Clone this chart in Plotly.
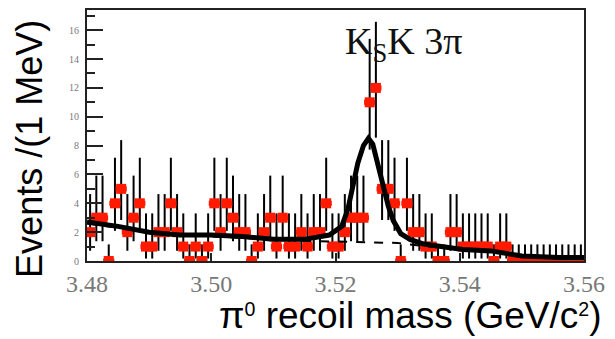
import plotly.graph_objects as go

# Binned event counts, 1 MeV bins from 3.480 to 3.560 GeV/c^2
bin_lo = 3.480
bin_w = 0.001
counts = [
    2, 3, 3, 0, 4, 5, 2, 3, 4, 1,
    1, 2, 2, 4, 2, 1, 0, 1, 0, 1,
    4, 2, 4, 3, 2, 2, 0, 1, 2, 3,
    1, 3, 1, 1, 2, 1, 2, 2, 4, 1,
    1, 2, 3, 3, 3, 11, 12, 5, 5, 4,
    0, 4, 2, 2, 1, 1, 0, 0, 2, 2,
    1, 1, 1, 1, 1, 0, 1, 1, 0, 0,
    0, 0, 0, 0, 0, 0, 0, 0, 0, 0,
]

# 68% Poisson interval half-widths for a given count
poisson_up = {0: 1.15, 1: 2.30, 2: 2.64, 3: 2.92, 4: 3.16, 5: 3.38, 11: 4.40, 12: 4.58}
poisson_dn = {0: 0.0, 1: 0.83, 2: 1.29, 3: 1.63, 4: 1.91, 5: 2.16, 11: 3.28, 12: 3.45}

# Fitted total shape (signal peak on smooth background)
fit_x = [3.4800, 3.4820, 3.4850, 3.4900, 3.4950, 3.5000, 3.5050, 3.5100, 3.5150,
         3.5190, 3.5210, 3.5220, 3.5228, 3.5236, 3.5245, 3.5253, 3.5260, 3.5268,
         3.5277, 3.5285, 3.5293, 3.5305, 3.5320, 3.5340, 3.5370, 3.5405, 3.5450,
         3.5500, 3.5560, 3.5600]
fit_y = [2.7, 2.6, 2.4, 2.0, 1.8, 1.8, 1.7, 1.5, 1.5,
         1.8, 2.4, 3.6, 5.3, 6.8, 8.0, 8.5, 8.1, 6.8,
         5.0, 3.8, 2.8, 1.9, 1.5, 1.2, 1.0, 0.8, 0.7,
         0.35, 0.25, 0.25]

# Background component of the fit
bkg_x = [3.480, 3.485, 3.490, 3.495, 3.500, 3.505, 3.510, 3.515, 3.520,
         3.525, 3.530, 3.535, 3.540, 3.545, 3.550, 3.556, 3.560]
bkg_y = [2.6, 2.3, 2.0, 1.8, 1.7, 1.6, 1.45, 1.4, 1.35,
         1.3, 1.25, 1.0, 0.8, 0.7, 0.35, 0.25, 0.25]

x_ticks = [3.48, 3.50, 3.52, 3.54, 3.56]
x_tick_labels = ["3.48", "3.50", "3.52", "3.54", "3.56"]
y_ticks = [0, 2, 4, 6, 8, 10, 12, 14, 16]
y_tick_labels = ["0", "2", "4", "6", "8", "10", "12", "14", "16"]

centers = [bin_lo + (i + 0.5) * bin_w for i in range(len(counts))]
err_up = [poisson_up[c] for c in counts]
err_dn = [poisson_dn[c] for c in counts]

fig = go.Figure()

# vertical error bars
fig.add_trace(go.Scatter(
    x=centers, y=counts, mode="markers",
    marker=dict(size=1, color="rgba(0,0,0,0)"),
    error_y=dict(type="data", symmetric=False, array=err_up, arrayminus=err_dn,
                 color="black", thickness=2, width=0),
    showlegend=False, hoverinfo="skip",
))

# data points
fig.add_trace(go.Scatter(
    x=centers, y=counts, mode="markers",
    marker=dict(symbol="square", size=10, color="#ff1a00", line=dict(width=0)),
    error_x=dict(type="constant", value=bin_w * 0.9, color="#ff1a00", thickness=5, width=0),
    showlegend=False,
))

# background component
fig.add_trace(go.Scatter(
    x=bkg_x, y=bkg_y, mode="lines",
    line=dict(color="black", width=2, dash="dash"),
    showlegend=False,
))

# total fit
fig.add_trace(go.Scatter(
    x=fit_x, y=fit_y, mode="lines",
    line=dict(color="black", width=5),
    showlegend=False,
))

axis_line = dict(showline=True, linecolor="#222", linewidth=2, mirror=True,
                 showgrid=False, zeroline=False)

fig.update_layout(
    width=615, height=339,
    margin=dict(l=87, r=31, t=8, b=78),
    paper_bgcolor="white", plot_bgcolor="white",
    xaxis=dict(range=[3.48, 3.56], tickvals=x_ticks, ticktext=x_tick_labels,
               ticks="inside", ticklen=8, tickwidth=2, tickcolor="#222",
               tickfont=dict(family="Liberation Serif", size=24, color="#777"),
               **axis_line),
    yaxis=dict(range=[0, 17.4], tickvals=y_ticks, ticktext=y_tick_labels,
               ticks="inside", ticklen=16, tickwidth=2, tickcolor="#222",
               minor=dict(dtick=1, ticks="inside", ticklen=8, tickwidth=2, tickcolor="#222"),
               tickfont=dict(family="Liberation Serif", size=10, color="#777"),
               ticklabelstandoff=4,
               **axis_line),
)

# annotation positions given in pixels, converted to paper fractions
pw, ph = 615 - 87 - 31, 339 - 8 - 78


def px(xp):
    return (xp - 87) / pw


def py(yp):
    return (339 - 78 - yp) / ph


fig.update_layout(annotations=[
    dict(text="K<sub>S</sub>K 3π", x=px(403), y=py(42), xref="paper", yref="paper",
         xanchor="center", yanchor="middle", showarrow=False,
         font=dict(family="Liberation Serif", size=38, color="#111")),
    dict(text="π<span style='font-size:28px'><sup>0</sup></span> recoil mass (GeV/c<span style='font-size:28px'><sup>2</sup></span>)",
         x=px(603), y=py(316),
         xref="paper", yref="paper", xanchor="right", yanchor="middle", showarrow=False,
         font=dict(family="Liberation Sans", size=37, color="black")),
    dict(text="Events /(1 MeV)", x=px(30), y=py(148), xref="paper", yref="paper",
         xanchor="center", yanchor="middle", textangle=-90, showarrow=False,
         font=dict(family="Liberation Sans", size=36, color="black")),
])

fig.write_html("out.html")
